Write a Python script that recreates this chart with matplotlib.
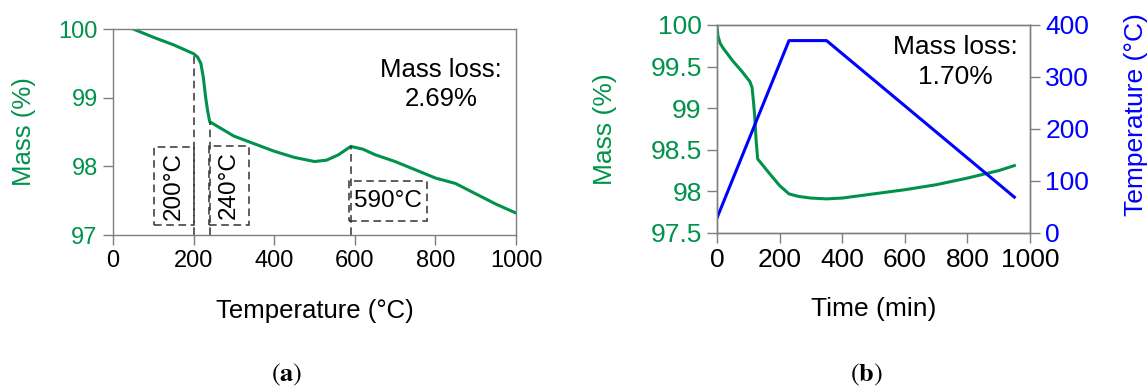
import matplotlib
matplotlib.use("Agg")
import matplotlib.pyplot as plt
from matplotlib.patches import Rectangle

plt.rcParams['font.family'] = ['Liberation Sans', 'DejaVu Sans']
plt.rcParams['mathtext.fontset'] = 'stix'

GREEN = '#00924A'
BLUE = '#0000FF'
GRAY = '#7f7f7f'

# (a) TGA: temperature vs mass
temp_a = [50, 100, 150, 200, 210, 218, 224, 230, 235, 240, 260, 300, 350, 400, 450,
          500, 530, 560, 590, 620, 650, 700, 750, 800, 850, 870, 900, 950, 1000]
mass_a = [100.0, 99.88, 99.77, 99.64, 99.59, 99.5, 99.3, 99.0, 98.8, 98.65, 98.58, 98.44,
          98.33, 98.22, 98.13, 98.07, 98.09, 98.17, 98.29, 98.25, 98.17, 98.07, 97.95,
          97.83, 97.75, 97.69, 97.6, 97.45, 97.32]

# (b) isothermal test: time vs mass and furnace temperature
time_b = [0, 3, 10, 20, 50, 80, 105, 112, 116, 120, 125, 130, 160, 200, 230, 260, 300,
          350, 400, 500, 600, 700, 800, 900, 950]
mass_b = [99.98, 99.87, 99.78, 99.72, 99.57, 99.44, 99.32, 99.25, 99.1, 98.93, 98.61,
          98.39, 98.25, 98.07, 97.97, 97.94, 97.92, 97.91, 97.92, 97.97, 98.02, 98.08,
          98.16, 98.25, 98.31]
time_T = [0, 230, 350, 950]
temp_T = [29, 370, 370, 69]

# annotations: onset temperatures and their label boxes (x0, x1, y0, y1)
onsets = [200, 240, 590]
onset_mass = [99.64, 98.65, 98.29]
onset_labels = ['200°C', '240°C', '590°C']
boxes = [(102, 200, 97.14, 98.28), (239, 337, 97.15, 98.29), (586, 778, 97.21, 97.79)]
label_rot = [90, 90, 0]

FSA_T, FSA_L = 17, 18.5
FSB_T, FSB_L = 19, 19
W, H = 1148, 392
fig = plt.figure(figsize=(W / 100, H / 100), dpi=100)

def style(ax, fs):
    for s in ax.spines.values():
        s.set_color(GRAY)
        s.set_linewidth(1.0)
    ax.tick_params(direction='out', length=7, width=1.0, color=GRAY, labelsize=fs, pad=4)

# ---- panel (a)
ax1 = fig.add_axes([113 / W, 1 - 235 / H, 403 / W, 206 / H])
ax1.plot(temp_a, mass_a, color=GREEN, lw=2.2)
ax1.set_xlim(0, 1000)
ax1.set_ylim(97, 100)
ax1.set_xticks([0, 200, 400, 600, 800, 1000])
ax1.set_yticks([97, 98, 99, 100])
style(ax1, FSA_T)
ax1.tick_params(axis='y', labelcolor=GREEN)
for xo, mo in zip(onsets, onset_mass):
    ax1.plot([xo, xo], [97, mo], color='#333333', lw=1.1, ls=(0, (5, 3)))
for (x0, x1, y0, y1), lab, rot in zip(boxes, onset_labels, label_rot):
    ax1.add_patch(Rectangle((x0, y0), x1 - x0, y1 - y0, fill=False, ec='#333333',
                            lw=1.1, ls=(0, (5, 3))))
    ax1.text((x0 + x1) / 2, (y0 + y1) / 2, lab, rotation=rot, ha='center', va='center',
             fontsize=17.5, color='black')
ax1.text(814, 99.41, 'Mass loss:', ha='center', va='center', fontsize=FSA_L)
ax1.text(814, 98.98, '2.69%', ha='center', va='center', fontsize=FSA_L)
ax1.set_xlabel('Temperature (°C)', fontsize=FSA_L)
ax1.xaxis.set_label_coords(0.5, -0.31)
ax1.set_ylabel('Mass (%)', fontsize=FSA_L, color=GREEN)
ax1.yaxis.set_label_coords(-0.19, 0.5)

# ---- panel (b)
ax2 = fig.add_axes([717 / W, 1 - 233 / H, 313 / W, 208 / H])
ax2.plot(time_b, mass_b, color=GREEN, lw=2.2)
ax2.set_xlim(0, 1000)
ax2.set_ylim(97.5, 100)
ax2.set_xticks([0, 200, 400, 600, 800, 1000])
ax2.set_yticks([97.5, 98, 98.5, 99, 99.5, 100])
ax2.set_yticklabels(['97.5', '98', '98.5', '99', '99.5', '100'])
style(ax2, FSB_T)
ax2.tick_params(axis='y', labelcolor=GREEN)
ax2.text(763, 99.73, 'Mass loss:', ha='center', va='center', fontsize=FSB_L)
ax2.text(763, 99.37, '1.70%', ha='center', va='center', fontsize=FSB_L)
ax2.set_xlabel('Time (min)', fontsize=FSB_L)
ax2.xaxis.set_label_coords(0.5, -0.31)
ax2.set_ylabel('Mass (%)', fontsize=FSB_L, color=GREEN)
ax2.yaxis.set_label_coords(-0.32, 0.5)

ax3 = ax2.twinx()
ax3.plot(time_T, temp_T, color=BLUE, lw=2.2)
ax3.set_ylim(0, 400)
ax3.set_yticks([0, 100, 200, 300, 400])
style(ax3, FSB_T)
ax3.tick_params(axis='y', labelcolor=BLUE)
ax3.set_ylabel('Temperature (°C)', fontsize=FSB_L, color=BLUE)
ax3.yaxis.set_label_coords(1.30, 0.57)

fig.text(287 / W, 1 - 375 / H, r'$(\mathbf{a})$', ha='center', va='center', fontsize=19)
fig.text(866 / W, 1 - 375 / H, r'$(\mathbf{b})$', ha='center', va='center', fontsize=19)

fig.savefig('out.png', dpi=100)
